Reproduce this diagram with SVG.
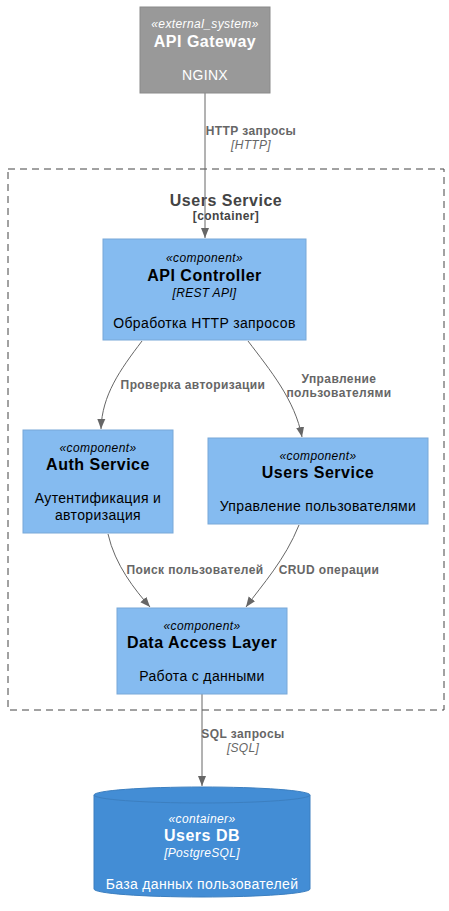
<svg xmlns="http://www.w3.org/2000/svg" width="449" height="911" viewBox="0 0 449 911">
<style>
text{font-family:"Liberation Sans",Arial,sans-serif;text-anchor:middle}
.st{font-size:12px;font-style:italic;letter-spacing:0.4px}
.ti{font-size:16px;font-weight:bold;letter-spacing:0.5px}
.tc{font-size:12px;font-style:italic;letter-spacing:0.3px}
.ds{font-size:14px;letter-spacing:0.35px}
.w{fill:#ffffff}
.k{fill:#000000}
.comp{fill:#85BBF0;stroke:#78A8D8;stroke-width:1}
.lb{font-size:12px;font-weight:bold;fill:#666666;letter-spacing:0.4px}
.li{font-size:12px;font-style:italic;fill:#666666;letter-spacing:0.3px}
.edge{fill:none;stroke:#666666;stroke-width:1}
</style>
<defs>
<marker id="ah" markerUnits="userSpaceOnUse" markerWidth="10" markerHeight="10" viewBox="0 0 10 10" refX="10" refY="5" orient="auto">
<path d="M0,1 L10,5 L0,9 Z" fill="#666666"/>
</marker>
</defs>
<rect width="449" height="911" fill="#ffffff"/>
<g id="boundary">
<rect x="8" y="169" width="436" height="541" fill="none" stroke="#444444" stroke-width="1" stroke-dasharray="7,5"/>
<text x="226" y="206" class="ti" style="fill:#444444">Users Service</text>
<text x="226" y="220" style="font-size:12px;font-weight:bold;fill:#444444;letter-spacing:0.4px">[container]</text>
</g>
<g id="edges">
<path class="edge" d="M205,93 L205,238" marker-end="url(#ah)"/>
<text x="251" y="135" class="lb">HTTP запросы</text>
<text x="251" y="149" class="li">[HTTP]</text>
<path class="edge" d="M142,341 C120,370 102,395 101,429" marker-end="url(#ah)"/>
<text x="193" y="389" class="lb">Проверка авторизации</text>
<path class="edge" d="M248,341 C270,370 295,400 302,437" marker-end="url(#ah)"/>
<text x="339" y="383" class="lb">Управление</text>
<text x="339" y="397" class="lb">пользователями</text>
<path class="edge" d="M108,534 C115,565 135,590 150,607" marker-end="url(#ah)"/>
<text x="195" y="574" class="lb">Поиск пользователей</text>
<path class="edge" d="M299,525 C285,560 262,585 246,607" marker-end="url(#ah)"/>
<text x="329" y="574" class="lb">CRUD операции</text>
<path class="edge" d="M202,694 L202,786" marker-end="url(#ah)"/>
<text x="243" y="738" class="lb">SQL запросы</text>
<text x="243" y="752" class="li">[SQL]</text>
</g>
<g id="api_gateway">
<rect x="140" y="7" width="130" height="86" fill="#999999" stroke="#8A8A8A"/>
<text x="205" y="28" class="st w">«external_system»</text>
<text x="205" y="47" class="ti w">API Gateway</text>
<text x="205" y="80" class="ds w">NGINX</text>
</g>
<g id="api_controller">
<rect x="103" y="239" width="203" height="101" class="comp"/>
<text x="204.5" y="262" class="st k">«component»</text>
<text x="204.5" y="281" class="ti k">API Controller</text>
<text x="204.5" y="297" class="tc k">[REST API]</text>
<text x="204.5" y="328" class="ds k">Обработка HTTP запросов</text>
</g>
<g id="auth_service">
<rect x="23" y="430" width="150" height="103" class="comp"/>
<text x="98" y="452" class="st k">«component»</text>
<text x="98" y="470" class="ti k">Auth Service</text>
<text x="98" y="503" class="ds k">Аутентификация и</text>
<text x="98" y="520" class="ds k">авторизация</text>
</g>
<g id="users_service">
<rect x="208" y="438" width="220" height="86" class="comp"/>
<text x="318" y="460" class="st k">«component»</text>
<text x="318" y="478" class="ti k">Users Service</text>
<text x="318" y="511" class="ds k">Управление пользователями</text>
</g>
<g id="data_access_layer">
<rect x="117" y="608" width="170" height="86" class="comp"/>
<text x="202" y="630" class="st k">«component»</text>
<text x="202" y="648" class="ti k">Data Access Layer</text>
<text x="202" y="681" class="ds k">Работа с данными</text>
</g>
<g id="users_db">
<path d="M94,795 A108,8 0 0,1 310,795 L310,889 A108,8 0 0,1 94,889 Z" fill="#438DD5" stroke="#3C7FC0"/>
<path d="M94,795 A108,8 0 0,0 310,795" fill="none" stroke="#3C7FC0"/>
<text x="202" y="823" class="st w">«container»</text>
<text x="202" y="841" class="ti w">Users DB</text>
<text x="202" y="857" class="tc w">[PostgreSQL]</text>
<text x="202" y="889" class="ds w">База данных пользователей</text>
</g>
</svg>
